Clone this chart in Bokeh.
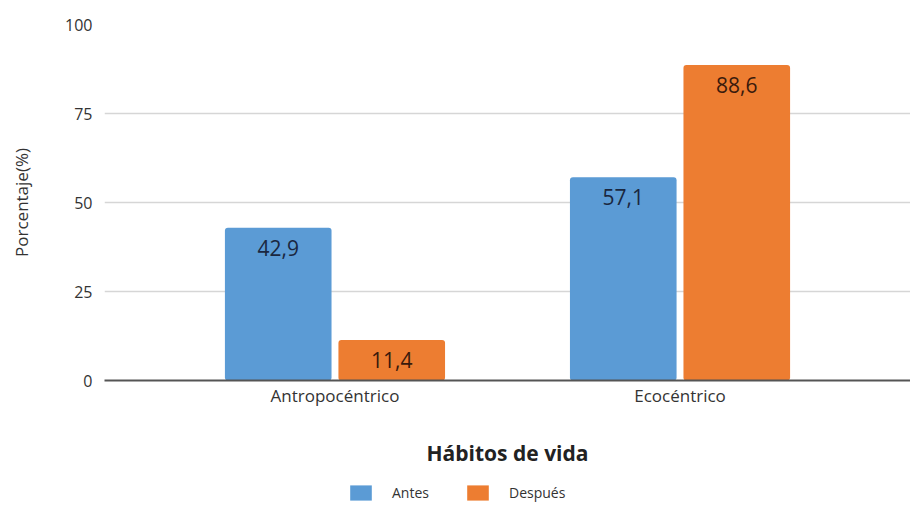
from bokeh.plotting import figure
from bokeh.layouts import column
from bokeh.models import (FactorRange, ColumnDataSource, LabelSet, Legend,
                          LegendItem, FixedTicker, Range1d)
from bokeh.core.properties import value
from bokeh.transform import dodge
from bokeh.embed import file_html
from bokeh.resources import INLINE

categories = ["Antropocéntrico", "Ecocéntrico"]
series = ["Antes", "Después"]
antes = [42.9, 57.1]
despues = [11.4, 88.6]
y_ticks = [0, 25, 50, 75, 100]
colors = ["#5b9bd5", "#ed7d31"]
label_colors = ["#1a2740", "#3a1a0c"]


def fmt(v):
    return f"{v:.1f}".replace(".", ",")


src = ColumnDataSource(dict(
    cat=categories,
    antes=antes,
    despues=despues,
    antes_lbl=[fmt(v) for v in antes],
    despues_lbl=[fmt(v) for v in despues],
))

FONT = "Open Sans"

p = figure(
    x_range=FactorRange(factors=categories, range_padding=0.168,
                        range_padding_units="absolute"),
    y_range=(0, 100),
    width=910, height=475,
    output_backend="svg", toolbar_location=None,
    min_border_left=104, min_border_top=24, min_border_right=0,
    min_border_bottom=95,
)
p.outline_line_color = None
p.background_fill_color = "white"

off = 0.1645
bw = 0.309
r1 = p.vbar(x=dodge("cat", -off, range=p.x_range), top="antes", width=bw,
            source=src, fill_color=colors[0], line_color=None, border_radius=3)
r2 = p.vbar(x=dodge("cat", off, range=p.x_range), top="despues", width=bw,
            source=src, fill_color=colors[1], line_color=None, border_radius=3)

for field, lbl, sign, tc in (("antes", "antes_lbl", -1, label_colors[0]),
                             ("despues", "despues_lbl", 1, label_colors[1])):
    ls = LabelSet(x=dodge("cat", sign * off, range=p.x_range), y=field, text=lbl,
                  source=src, text_align="center", text_baseline="middle",
                  y_offset=-20, text_font=value(FONT), text_font_size="21px",
                  text_color=tc)
    p.add_layout(ls)

# axes
p.yaxis.ticker = FixedTicker(ticks=y_ticks)
p.yaxis.axis_line_color = None
p.yaxis.major_tick_line_color = None
p.yaxis.minor_tick_line_color = None
p.yaxis.major_label_text_font = FONT
p.yaxis.major_label_text_font_size = "16px"
p.yaxis.major_label_text_color = "#333333"
p.yaxis.major_label_standoff = 6
p.yaxis.axis_label = "Porcentaje(%)"
p.yaxis.axis_label_text_font = FONT
p.yaxis.axis_label_text_font_style = "normal"
p.yaxis.axis_label_text_font_size = "17px"
p.yaxis.axis_label_text_color = "#333333"
p.yaxis.axis_label_standoff = 29

p.xaxis.axis_line_color = "#555555"
p.xaxis.axis_line_width = 1.8
p.xaxis.major_tick_line_color = None
p.xaxis.minor_tick_line_color = None
p.xaxis.major_label_text_font = FONT
p.xaxis.major_label_text_font_size = "17px"
p.xaxis.major_label_text_color = "#333333"
p.xaxis.major_label_standoff = -3
p.xaxis.axis_label = "Hábitos de vida"
p.xaxis.axis_label_text_font = FONT
p.xaxis.axis_label_text_font_style = "bold"
p.xaxis.axis_label_text_font_size = "21px"
p.xaxis.axis_label_text_color = "#222222"
p.xaxis.axis_label_standoff = 29

p.xgrid.grid_line_color = None
p.ygrid.grid_line_color = "#d6d6d6"
p.ygrid.grid_line_width = 1.5

# legend strip below the chart; its swatch renderers are hidden (legend only)
lg = figure(width=910, height=30, output_backend="svg", toolbar_location=None,
            x_range=FactorRange(factors=categories), y_range=Range1d(0, 100),
            x_axis_type=None, y_axis_type=None,
            min_border_left=0, min_border_right=0, min_border_top=0,
            min_border_bottom=0)
lg.outline_line_color = None
lg.grid.visible = False
sw = [lg.vbar(x="cat", top=f, width=0.3, source=src, fill_color=c,
              line_color=None, visible=False)
      for f, c in zip(["antes", "despues"], colors)]
legend = Legend(
    items=[LegendItem(label=s, renderers=[r]) for s, r in zip(series, sw)],
    orientation="horizontal", location=(243, 3),
    glyph_width=27, glyph_height=19, label_height=19, label_standoff=18,
    spacing=35,
    label_text_font=FONT, label_text_font_size="14px",
    label_text_color="#333333",
    border_line_color=None, background_fill_alpha=0,
    padding=0, margin=0, click_policy="none",
)
lg.add_layout(legend, "center")

layout = column(p, lg, spacing=0)
open("out.html", "w").write(file_html(layout, INLINE))
